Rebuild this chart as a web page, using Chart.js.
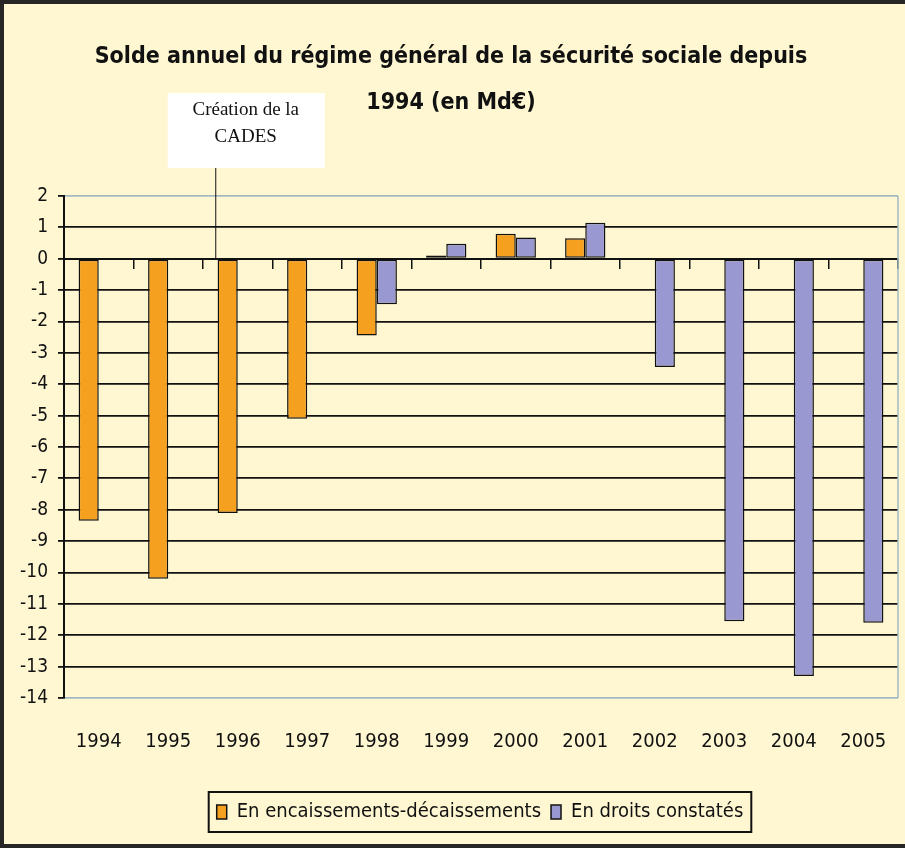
<!DOCTYPE html>
<html>
<head>
<meta charset="utf-8">
<title>Solde annuel du régime général</title>
<script src="https://cdn.jsdelivr.net/npm/chart.js@4.4.1/dist/chart.umd.min.js"></script>
<style>
    html, body { margin: 0; padding: 0; background: #fef7d2; }
    #frame { width: 905px; height: 848px; box-sizing: border-box; border: 4px solid #262626; border-right: none; background: #fef7d2; }
    #wrap { width: 901px; height: 840px; position: relative; }
</style>
</head>
<body>
<div id="frame"><div id="wrap"><canvas id="myChart"></canvas></div></div>
<script>
var years = ['1994', '1995', '1996', '1997', '1998', '1999', '2000', '2001', '2002', '2003', '2004', '2005']
var encaissements = [-8.35, -10.2, -8.1, -5.1, -2.45, 0.1, 0.8, 0.65, null, null, null, null]
var droits = [null, null, null, null, -1.45, 0.48, 0.68, 1.15, -3.45, -11.55, -13.3, -11.6]
var seriesNames = ['En encaissements-décaissements', 'En droits constatés']
var titleLines = ['Solde annuel du régime général de la sécurité sociale depuis', '1994 (en Md€)']
var yMin = -14, yMax = 2, yStep = 1
var noteLines = ['Création de la', 'CADES']
var noteYear = '1996'

var narrow = "'Liberation Sans Narrow', 'DejaVu Sans Condensed', sans-serif"

// extra drawing: plot right border, legend frame, CADES note
const extras = {
    id: 'extras',
    afterLayout(chart) {
        const lg = chart.legend
        lg.left += 29
        lg.right += 29
    },
    afterDraw(chart) {
        const ctx = chart.ctx, area = chart.chartArea
        const x = chart.scales.x, y = chart.scales.y
        ctx.save()

        ctx.strokeStyle = '#a3b8c2'
        ctx.lineWidth = 1.5
        ctx.beginPath()
        ctx.moveTo(area.right, area.top)
        ctx.lineTo(area.right, area.bottom)
        ctx.stroke()

        const boxes = chart.legend.legendHitBoxes
        const l = Math.min(...boxes.map(b => b.left))
        const r = Math.max(...boxes.map(b => b.left + b.width))
        const t = Math.min(...boxes.map(b => b.top))
        const bt = Math.max(...boxes.map(b => b.top + b.height))
        ctx.strokeStyle = '#111'
        ctx.lineWidth = 2
        ctx.strokeRect(l - 8, t - 10, r - l + 16, bt - t + 20)

        const lineX = x.getPixelForValue(years.indexOf(noteYear)) - 22
        ctx.fillStyle = '#ffffff'
        ctx.fillRect(lineX - 48, 89, 157, 75)
        ctx.strokeStyle = '#111'
        ctx.lineWidth = 1
        ctx.beginPath()
        ctx.moveTo(lineX, 164)
        ctx.lineTo(lineX, y.getPixelForValue(0))
        ctx.stroke()
        ctx.fillStyle = '#111'
        ctx.font = "19px 'Liberation Serif', serif"
        ctx.textAlign = 'center'
        ctx.textBaseline = 'middle'
        ctx.fillText(noteLines[0], lineX + 30, 106)
        ctx.fillText(noteLines[1], lineX + 30, 133)
        ctx.restore()
    }
}

let ctx = document.getElementById('myChart').getContext('2d')
let myChart = new Chart(ctx, {
    type: 'bar',
    data: {
        labels: years,
        datasets: [{
            label: seriesNames[0],
            data: encaissements,
            backgroundColor: '#f5a01e',
            borderColor: '#111',
            borderWidth: 1.5,
            borderSkipped: false
        }, {
            label: seriesNames[1],
            data: droits,
            backgroundColor: '#9a98d0',
            borderColor: '#111',
            borderWidth: 1.5,
            borderSkipped: false
        }]
    },
    options: {
        responsive: true,
        maintainAspectRatio: false,
        animation: false,
        categoryPercentage: 0.58,
        barPercentage: 1,
        layout: { padding: { left: 0, right: 7, top: 0, bottom: 12 } },
        plugins: {
            title: {
                display: true,
                text: titleLines,
                color: '#111',
                font: { family: narrow, size: 23, weight: 'bold', lineHeight: 46 / 23 },
                padding: { top: 30, bottom: 70 }
            },
            legend: {
                position: 'bottom',
                labels: {
                    color: '#111',
                    font: { family: narrow, size: 20 },
                    boxWidth: 10,
                    boxHeight: 14,
                    padding: 10
                }
            },
            tooltip: { enabled: false }
        },
        scales: {
            x: {
                grid: { display: true, drawOnChartArea: false, drawTicks: true, tickLength: 30, color: 'rgba(0,0,0,0)' },
                border: { display: false },
                ticks: { color: '#111', font: { family: narrow, size: 20 }, padding: 2, maxRotation: 0 },
                afterFit(scale) { scale.height = 94 }
            },
            x2: {
                type: 'category',
                labels: years,
                position: { y: 0 },
                offset: true,
                grid: { offset: true, drawOnChartArea: false, drawTicks: true, tickLength: 9, color: '#111', lineWidth: 1.5 },
                border: { display: true, color: '#111', width: 2 },
                ticks: { display: false }
            },
            y: {
                min: yMin,
                max: yMax,
                ticks: { stepSize: yStep, color: '#111', font: { family: narrow, size: 19 }, padding: 10 },
                grid: {
                    color: (c) => (c.tick && (c.tick.value === yMax || c.tick.value === yMin)) ? '#a3b8c2' : '#111',
                    tickColor: '#111',
                    lineWidth: 1.8,
                    tickLength: 6
                },
                border: { display: true, color: '#111', width: 2 },
                afterFit(scale) { scale.width = 60 }
            }
        }
    },
    plugins: [extras]
})
</script>
</body>
</html>
